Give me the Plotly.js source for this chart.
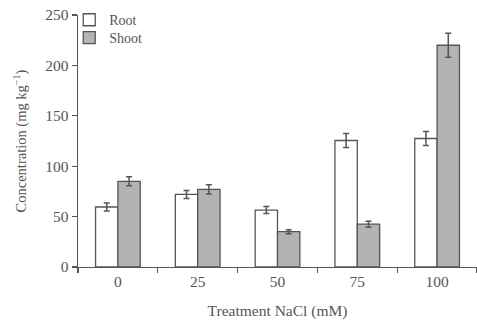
<!DOCTYPE html>
<html><head><meta charset="utf-8">
<script src="https://cdn.plot.ly/plotly-3.0.1.min.js"></script>
<style>html,body{margin:0;padding:0;background:#fff}#chart{width:477px;height:320px}</style>
</head><body><div id="chart"></div>
<script>
const categories = ["0", "25", "50", "75", "100"];
const rootValues = [59.5, 72, 56.5, 125.5, 127.5];
const rootErrors = [4, 4, 3.5, 7, 7];
const shootValues = [85, 77, 35, 42.5, 220];
const shootErrors = [4.5, 4.5, 2, 3, 12];

const font = {family: "Liberation Serif, Times New Roman, serif", color: "#555", size: 14};
const traces = [
  {type: "bar", name: "Root", x: categories, y: rootValues, legend: "legend",
   marker: {color: "#ffffff", line: {color: "#555", width: 1.3}},
   error_y: {type: "data", array: rootErrors, visible: true, color: "#555", thickness: 1.5, width: 3}},
  {type: "bar", name: "Shoot", x: categories, y: shootValues, legend: "legend2",
   marker: {color: "#b3b3b3", line: {color: "#555", width: 1.3}},
   error_y: {type: "data", array: shootErrors, visible: true, color: "#555", thickness: 1.5, width: 3}}
];
const legendFont = {family: font.family, size: 14, color: "#555"};
const layout = {
  width: 477, height: 320,
  margin: {l: 78, r: 0, t: 15, b: 53},
  paper_bgcolor: "#fff", plot_bgcolor: "rgba(0,0,0,0)",
  font: font,
  barmode: "group", bargap: 0.44, bargroupgap: 0,
  showlegend: true,
  legend: {x: -0.022, y: 1.043, xanchor: "left", yanchor: "top", bgcolor: "rgba(0,0,0,0)",
           font: legendFont, itemwidth: 30},
  legend2: {x: -0.022, y: 0.972, xanchor: "left", yanchor: "top", bgcolor: "rgba(0,0,0,0)",
           font: legendFont, itemwidth: 30},
  xaxis: {type: "category", range: [-0.5, 4.5], tickson: "boundaries", ticks: "outside", ticklen: 5,
          tickcolor: "#555", tickwidth: 1.3, showline: true, linecolor: "#555", linewidth: 1.3,
          showgrid: false, zeroline: false, tickfont: {size: 15.5},
          title: {text: "Treatment NaCl (mM)", font: {size: 15.5}, standoff: 17}},
  yaxis: {range: [0, 250], tickvals: [0, 50, 100, 150, 200, 250], ticks: "outside", ticklen: 5,
          tickcolor: "#555", tickwidth: 1.3, showline: true, linecolor: "#555", linewidth: 1.3,
          showgrid: false, zeroline: false, tickfont: {size: 15.5},
          title: {text: "Concentration (mg kg<sup>−1</sup>)", font: {size: 14.5}, standoff: 15}}
};
Plotly.newPlot("chart", traces, layout, {displayModeBar: false, staticPlot: true});
</script></body></html>
